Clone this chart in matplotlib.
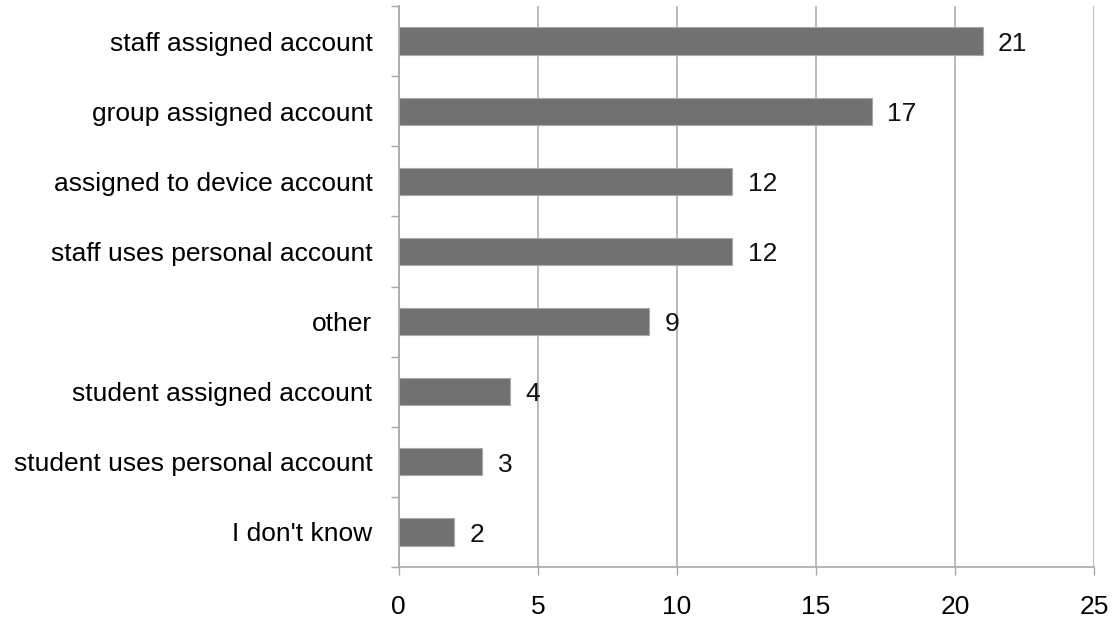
import matplotlib
matplotlib.use("Agg")
import matplotlib.pyplot as plt

categorias = ["staff assigned account", "group assigned account",
              "assigned to device account", "staff uses personal account",
              "other", "student assigned account",
              "student uses personal account", "I don't know"]
valores = [21, 17, 12, 12, 9, 4, 3, 2]

plt.rcParams["font.family"] = ["Liberation Sans", "DejaVu Sans"]

fig = plt.figure(figsize=(11.14, 6.25), dpi=100)
ax = fig.add_axes([0.358, 0.0928, 0.624, 0.8976])

n = len(categorias)
pos = list(range(n))[::-1]
ax.barh(pos, valores, height=0.39, color="#717171", edgecolor="#a8a8a8", linewidth=0.8, zorder=3)
for p, v in zip(pos, valores):
    ax.text(v + 0.55, p - 0.04, str(v), va="center", ha="left", fontsize=19, color="#111111", zorder=4)

ax.set_xlim(0, 25)
ax.set_ylim(-0.5, n - 0.5)
ax.set_xticks([0, 5, 10, 15, 20, 25])
ax.tick_params(axis="x", labelsize=19, length=6, width=1, color="#a8a8a8", pad=14)

# etiquetas de categoria entre marcas
ax.set_yticks([i - 0.5 for i in range(n + 1)])
ax.set_yticklabels([])
ax.set_yticks(pos, labels=categorias, minor=True)
ax.tick_params(axis="y", which="major", length=6, width=1, color="#a8a8a8")
ax.tick_params(axis="y", which="minor", length=0, labelsize=19, pad=19)

ax.grid(axis="x", color="#b0b0b0", linewidth=1.2, zorder=0)
for s in ["top", "right"]:
    ax.spines[s].set_visible(False)
for s in ["left", "bottom"]:
    ax.spines[s].set_color("#a8a8a8")
    ax.spines[s].set_linewidth(1.2)

plt.savefig("out.png", dpi=100)
